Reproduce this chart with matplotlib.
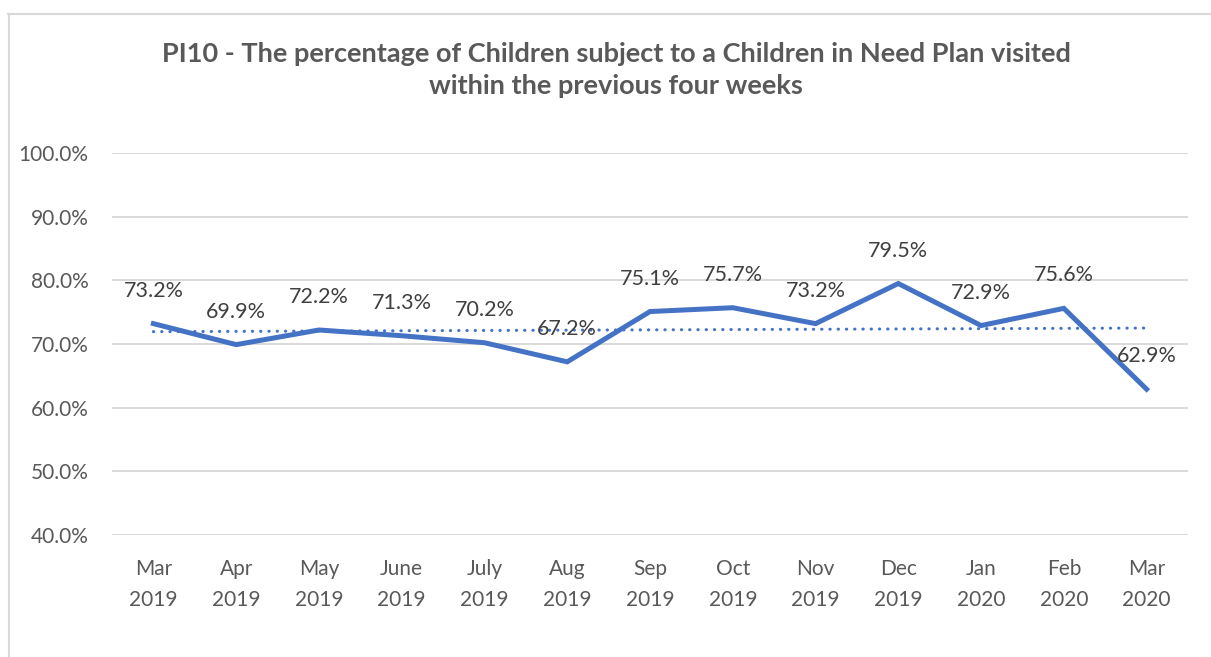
import numpy as np
import matplotlib.pyplot as plt
from matplotlib.ticker import FuncFormatter

months = ["Mar\n2019", "Apr\n2019", "May\n2019", "June\n2019", "July\n2019", "Aug\n2019",
          "Sep\n2019", "Oct\n2019", "Nov\n2019", "Dec\n2019", "Jan\n2020", "Feb\n2020", "Mar\n2020"]
pct_visited = [73.2, 69.9, 72.2, 71.3, 70.2, 67.2, 75.1, 75.7, 73.2, 79.5, 72.9, 75.6, 62.9]

title = ("PI10 - The percentage of Children subject to a Children in Need Plan visited\n"
         "within the previous four weeks")

blue = "#4472C4"
plt.rcParams['font.family'] = ['Lato', 'DejaVu Sans']

fig = plt.figure(figsize=(12.11, 6.57), dpi=100)
ax = fig.add_axes([0.0925, 0.1857, 0.8885, 0.5814])

x = np.arange(len(months))
y = np.array(pct_visited)

# linear trendline
k, d = np.polyfit(x, y, 1)
ax.plot(x, k * x + d, color=blue, linewidth=2.2, linestyle=(0, (0.1, 2.6)),
        dash_capstyle='round', zorder=2)
ax.plot(x, y, color=blue, linewidth=3.6, solid_joinstyle='miter', zorder=3)

for xi, yi in zip(x, y):
    ax.annotate(f"{yi:.1f}%", (xi, yi), xytext=(0, 33), textcoords='offset pixels',
                ha='center', va='center', fontsize=15.5, color='#404040', zorder=4)

ax.set_xlim(-0.5, len(months) - 0.5)
ax.set_ylim(40, 100)
ax.set_yticks(np.arange(40, 101, 10))
ax.yaxis.set_major_formatter(FuncFormatter(lambda v, p: f"{v:.1f}%"))
ax.set_xticks(x)
ax.set_xticklabels(months, linespacing=1.72)
ax.tick_params(axis='both', length=0, labelsize=15, labelcolor='#595959')
ax.tick_params(axis='y', pad=17)
ax.tick_params(axis='x', pad=17)
ax.grid(axis='y', color='#D9D9D9', linewidth=1.4)
ax.set_axisbelow(True)
for s in ax.spines.values():
    s.set_visible(False)

fig.text(0.509, 0.893, title, ha='center', va='center', fontsize=19.5, fontweight='bold',
         color='#595959', linespacing=1.42)

# chart border (top and left edges)
fig.add_artist(plt.Line2D([8 / 1211, 1], [1 - 13.5 / 657] * 2, color='#D9D9D9', linewidth=1.5))
fig.add_artist(plt.Line2D([8.5 / 1211] * 2, [0, 1 - 13.5 / 657], color='#D9D9D9', linewidth=1.5))

fig.savefig("out.png", dpi=100)
